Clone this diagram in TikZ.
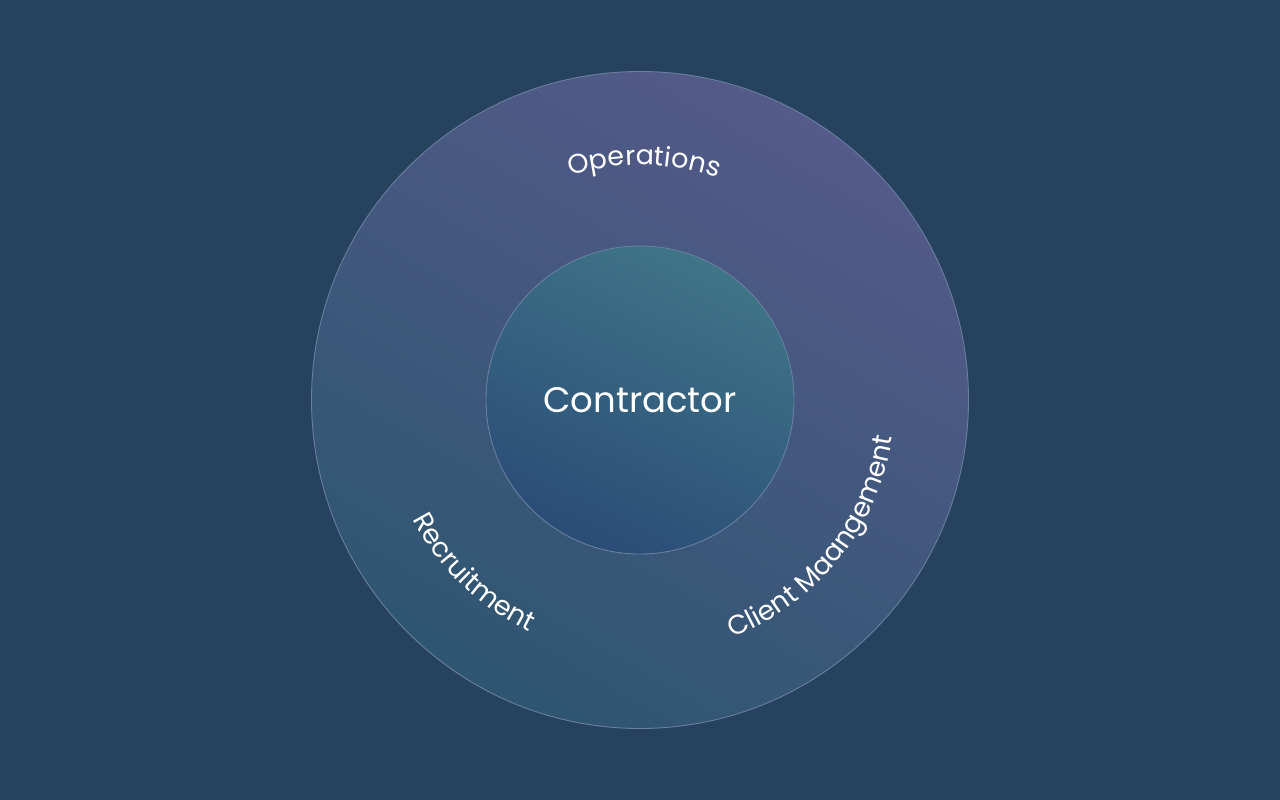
\documentclass[tikz,border=0pt]{standalone}
\usepackage{fontspec}
\setmainfont{Poppins}
\usetikzlibrary{decorations.text,calc}
\definecolor{bgc}{HTML}{27425F}
\definecolor{outerTop}{HTML}{545A89}
\definecolor{outerBot}{HTML}{2E5670}
\definecolor{innerTop}{HTML}{3F7587}
\definecolor{innerBot}{HTML}{2A4C77}
\definecolor{ringline}{HTML}{687F9E}
\tikzset{
  ring/.style={circle, inner sep=0pt, draw=ringline, line width=0.9pt},
  arclabel/.style={decorate, decoration={text along path, text align=center,
     text color=white, text={|\fontsize{27}{31}\selectfont|#1}}}
}
\begin{document}
\begin{tikzpicture}[x=1pt,y=1pt]
\fill[bgc] (0,0) rectangle (1280,800);
\useasboundingbox (0,0) rectangle (1280,800);
\coordinate (c) at (640,400);
\node[ring, minimum size=657pt, top color=outerTop, bottom color=outerBot, shading angle=-30] (outer) at (c) {};
\node[ring, minimum size=308pt, top color=innerTop, bottom color=innerBot, shading angle=-25,
      text=white, font=\fontsize{35.5}{40}\selectfont] (inner) at (c) {Contractor};
\path[arclabel=Operations] ($(c)+(128:235)$) arc[start angle=128, end angle=50, radius=235];
\path[arclabel=Recruitment] ($(c)+(184:257)$) arc[start angle=184, end angle=268, radius=257];
\path[arclabel=Client Maangement] ($(c)+(279:255)$) arc[start angle=279, end angle=364, radius=255];
\end{tikzpicture}
\end{document}
